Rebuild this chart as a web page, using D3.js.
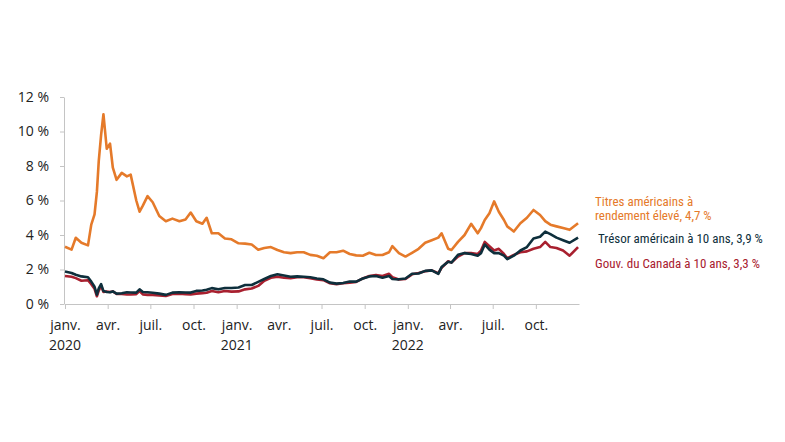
<!DOCTYPE html>
<html>
<head>
<meta charset="utf-8">
<script src="https://cdn.jsdelivr.net/npm/d3@7"></script>
<style>
  body { margin: 0; background: #fff; }
  svg text { font-family: "Open Sans", "Noto Sans", sans-serif; }
  svg text.label { font-family: "Liberation Sans Narrow", "Roboto Condensed", "Roboto", sans-serif; }
</style>
</head>
<body>
<svg id="chart" width="785" height="442"></svg>
<script>
var dates = [
  '2020-01-01','2020-01-15','2020-01-24','2020-02-05','2020-02-19','2020-02-26','2020-03-04','2020-03-09','2020-03-13','2020-03-18',
  '2020-03-23','2020-03-30','2020-04-06','2020-04-12','2020-04-20','2020-05-01','2020-05-12','2020-05-20','2020-06-01','2020-06-08',
  '2020-06-15','2020-06-25','2020-07-06','2020-07-20','2020-08-03','2020-08-17','2020-09-01','2020-09-14','2020-09-25','2020-10-07',
  '2020-10-20','2020-10-29','2020-11-09','2020-11-23','2020-12-07','2020-12-21',
  '2021-01-05','2021-01-19','2021-02-02','2021-02-16','2021-03-01','2021-03-15','2021-03-29','2021-04-12','2021-04-26','2021-05-10',
  '2021-05-24','2021-06-07','2021-06-21','2021-07-05','2021-07-19','2021-08-02','2021-08-16','2021-08-30','2021-09-13','2021-09-27',
  '2021-10-11','2021-10-25','2021-11-08','2021-11-22','2021-11-29','2021-12-13','2021-12-27',
  '2022-01-10','2022-01-24','2022-02-07','2022-02-21','2022-03-07','2022-03-14','2022-03-28','2022-04-04','2022-04-18','2022-05-02',
  '2022-05-16','2022-05-30','2022-06-06','2022-06-14','2022-06-24','2022-07-04','2022-07-14','2022-07-25','2022-08-01','2022-08-15',
  '2022-08-29','2022-09-12','2022-09-26','2022-10-10','2022-10-21','2022-11-01','2022-11-14','2022-11-28','2022-12-12','2022-12-30'
]

// Titres américains à rendement élevé
var highYield = [
  3.32,3.15,3.84,3.55,3.4,4.6,5.2,6.5,8.3,9.8,
  11.0,9.0,9.3,7.9,7.2,7.6,7.4,7.5,6.0,5.35,
  5.7,6.25,5.9,5.1,4.8,4.95,4.8,4.9,5.3,4.8,
  4.65,5.0,4.1,4.1,3.8,3.75,
  3.52,3.5,3.45,3.15,3.25,3.3,3.13,3.0,2.95,3.0,
  3.0,2.85,2.8,2.65,3.0,3.0,3.09,2.9,2.82,2.8,
  2.97,2.84,2.84,3.0,3.36,2.95,2.75,
  2.97,3.2,3.55,3.7,3.85,4.1,3.2,3.13,3.6,4.0,
  4.65,4.1,4.4,4.87,5.26,5.95,5.35,4.87,4.5,4.2,
  4.68,5.0,5.45,5.16,4.8,4.6,4.5,4.4,4.3,4.68
]

// Trésor américain à 10 ans
var usTreasury = [
  1.88,1.8,1.7,1.6,1.55,1.3,1.0,0.54,0.9,1.15,
  0.75,0.7,0.68,0.73,0.6,0.62,0.68,0.67,0.66,0.85,
  0.7,0.68,0.65,0.6,0.53,0.66,0.68,0.67,0.66,0.76,
  0.78,0.82,0.92,0.85,0.93,0.93,
  0.96,1.1,1.1,1.28,1.45,1.62,1.72,1.65,1.58,1.6,
  1.58,1.55,1.48,1.43,1.24,1.18,1.22,1.3,1.3,1.48,
  1.6,1.62,1.52,1.62,1.45,1.43,1.48,
  1.75,1.77,1.92,1.95,1.75,2.14,2.45,2.4,2.85,2.95,
  2.9,2.8,2.95,3.45,3.15,2.95,2.95,2.8,2.6,2.8,
  3.1,3.3,3.8,3.9,4.2,4.05,3.85,3.7,3.55,3.85
]

// Gouv. du Canada à 10 ans
var canada = [
  1.62,1.58,1.5,1.35,1.38,1.15,0.88,0.45,0.78,1.05,
  0.7,0.72,0.7,0.73,0.58,0.58,0.55,0.55,0.57,0.75,
  0.56,0.53,0.53,0.5,0.46,0.58,0.6,0.57,0.56,0.6,
  0.63,0.65,0.75,0.68,0.75,0.72,
  0.73,0.85,0.9,1.05,1.35,1.52,1.58,1.52,1.5,1.55,
  1.55,1.5,1.42,1.38,1.2,1.15,1.2,1.24,1.28,1.48,
  1.62,1.68,1.62,1.75,1.55,1.42,1.45,
  1.72,1.8,1.9,1.95,1.78,2.1,2.48,2.4,2.75,2.95,
  2.95,2.9,3.1,3.6,3.35,3.1,3.2,2.9,2.65,2.85,
  3.0,3.05,3.2,3.3,3.6,3.3,3.25,3.1,2.8,3.3
]

var yTicks = [0, 2, 4, 6, 8, 10, 12]
var monthNames = ['janv.', 'avr.', 'juil.', 'oct.']
var years = ['2020', '2021', '2022']

var parse = d3.timeParse('%Y-%m-%d')
var dateValues = dates.map(parse)

var svg = d3.select('#chart')

var x = d3.scaleTime()
          .domain([new Date(2020, 0, 1), new Date(2023, 0, 1)])
          .range([65, 579])

var y = d3.scaleLinear()
          .domain([0, 12])
          .range([304, 97])

// axes
var quarters = d3.timeMonth.every(3).range(new Date(2020, 0, 1), new Date(2022, 11, 1))

var xAxis = svg.append('g')
               .attr('transform', 'translate(0,' + y(0) + ')')
               .call(d3.axisBottom(x)
                        .tickValues(quarters)
                        .tickSize(5)
                        .tickSizeOuter(0)
                        .tickFormat(d => monthNames[d.getMonth() / 3]))
xAxis.select('.domain').attr('stroke', '#c4c4c4')
xAxis.selectAll('.tick line').attr('stroke', '#c4c4c4')
xAxis.selectAll('.tick text')
     .attr('dy', 0).attr('y', 26)
     .attr('fill', '#222').style('font-size', '14px')

// year under each january
xAxis.selectAll('.year')
     .data(years)
     .join('text')
     .classed('year', true)
     .attr('x', d => x(new Date(+d, 0, 1)))
     .attr('y', 46)
     .attr('text-anchor', 'middle')
     .attr('fill', '#222')
     .style('font-size', '14px')
     .text(d => d)

var yAxis = svg.append('g')
               .attr('transform', 'translate(64,0)')
               .call(d3.axisLeft(y)
                        .tickValues(yTicks)
                        .tickSize(4)
                        .tickSizeOuter(0)
                        .tickFormat(d => d + ' %'))
yAxis.select('.domain').attr('stroke', '#c4c4c4')
yAxis.selectAll('.tick line').attr('stroke', '#c4c4c4')
yAxis.selectAll('.tick text')
     .attr('x', -15)
     .attr('fill', '#222').style('font-size', '14px')

// lines
var series = [
  { name: 'highYield', values: highYield, color: '#E57A2A' },
  { name: 'canada', values: canada, color: '#A8202F' },
  { name: 'usTreasury', values: usTreasury, color: '#0E2F3C' }
]

var line = d3.line()
             .x((d, i) => x(dateValues[i]))
             .y(d => y(d))

svg.selectAll('.series')
   .data(series)
   .join('path')
   .classed('series', true)
   .attr('d', s => line(s.values))
   .attr('fill', 'none')
   .attr('stroke', s => s.color)
   .attr('stroke-width', 2.6)
   .attr('stroke-linejoin', 'round')

// labels
var labels = [
  { lines: ['Titres américains à', 'rendement élevé, 4,7 %'], x: 595, y: 206, color: '#E57A2A' },
  { lines: ['Trésor américain à 10 ans, 3,9 %'], x: 598, y: 243, color: '#0E2F3C' },
  { lines: ['Gouv. du Canada à 10 ans, 3,3 %'], x: 595, y: 268, color: '#A8202F' }
]

labels.forEach(l => {
  svg.append('text')
     .classed('label', true)
     .attr('x', l.x)
     .attr('y', l.y)
     .attr('fill', l.color)
     .style('font-size', '13px')
     .selectAll('tspan')
     .data(l.lines)
     .join('tspan')
     .attr('x', l.x)
     .attr('dy', (d, i) => i == 0 ? 0 : 13.5)
     .text(d => d)
})
</script>
</body>
</html>
